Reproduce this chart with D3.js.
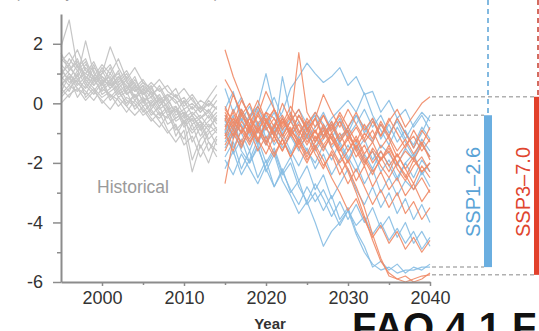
<!DOCTYPE html>
<html>
<head>
<meta charset="utf-8">
<script src="https://cdn.jsdelivr.net/npm/d3@7"></script>
<style>
  html, body { margin: 0; padding: 0; background: #fff; }
  svg { display: block; font-family: "Liberation Sans", Arial, sans-serif; }
</style>
</head>
<body>
<div id="chart"></div>
<script>
// years
const histYears = [1995, 1996, 1997, 1998, 1999, 2000, 2001, 2002, 2003, 2004,
  2005, 2006, 2007, 2008, 2009, 2010, 2011, 2012, 2013, 2014];
const projYears = [2015, 2016, 2017, 2018, 2019, 2020, 2021, 2022, 2023, 2024,
  2025, 2026, 2027, 2028, 2029, 2030, 2031, 2032, 2033, 2034,
  2035, 2036, 2037, 2038, 2039, 2040];

// historical ensemble members (1995-2014)
const historical = [
  [1.9, 2.8, 1.2, 1.0, 0.8, 1.1, 0.6, 0.7, 0.3, 0.5, 0.1, 0.2, -0.2, 0.0, -0.5, -0.3, -0.6, -0.4, -0.8, -0.5],
  [1.5, 1.2, 0.9, 2.1, 1.0, 0.7, 0.9, 0.4, 0.6, 0.2, 0.4, -0.1, 0.1, -0.3, -0.2, -0.6, -0.4, -0.9, -0.6, -0.3],
  [0.8, 1.1, 1.4, 0.9, 0.6, 1.0, 1.9, 1.2, 0.7, 0.4, 0.6, 0.3, -0.1, 0.2, -0.4, -0.2, -0.7, -0.5, -0.3, -0.7],
  [1.2, 0.7, 0.9, 1.3, 1.1, 0.5, 0.8, 0.3, 0.5, 0.9, 0.2, 0.0, 0.3, -0.2, -0.1, -0.5, -0.3, -0.6, -0.9, -0.4],
  [0.3, 0.6, 0.4, 0.8, 0.5, 0.2, 0.4, 0.6, 0.1, -0.1, 0.2, -0.3, -0.5, -0.2, -0.8, -1.2, -0.7, -1.5, -1.0, -0.8],
  [0.9, 1.5, 1.1, 0.6, 1.2, 0.9, 0.5, 0.8, 1.1, 0.6, 0.3, 0.5, 0.1, 0.3, 0.0, 0.2, -0.2, 0.1, -0.1, 0.3],
  [0.5, 0.2, 0.7, 0.4, 0.1, 0.5, 0.3, -0.1, 0.2, 0.0, -0.4, -0.2, -0.6, -1.0, -0.7, -1.4, -1.1, -1.8, -1.3, -1.6],
  [1.6, 1.3, 1.8, 1.1, 0.9, 1.3, 1.0, 1.5, 0.8, 1.2, 0.7, 0.5, 0.8, 0.4, 0.2, 0.5, 0.1, -0.2, 0.2, 0.6],
  [0.6, 0.9, 0.5, 0.3, 0.8, 0.4, 0.7, 0.2, 0.4, -0.2, 0.1, -0.4, -0.1, -0.7, -0.5, -0.3, -0.9, -0.6, -1.2, -0.9],
  [1.1, 0.8, 1.3, 0.7, 0.4, 0.8, 0.2, 0.5, -0.1, 0.3, -0.3, 0.0, -0.4, -0.1, -1.1, -0.6, -1.9, -1.2, -0.9, -1.4],
  [0.2, 0.5, 0.8, 0.5, 0.9, 0.6, 1.0, 0.6, 0.9, 0.4, 0.7, 0.3, 0.5, 0.0, 0.3, -0.2, 0.0, -0.3, 0.1, -0.2],
  [1.3, 1.0, 0.6, 0.9, 0.7, 1.2, 0.8, 1.0, 0.5, 0.7, 0.0, 0.4, 0.2, -0.4, -0.2, -0.8, -0.5, -1.1, -0.7, -1.0],
  [0.7, 0.4, 1.0, 0.2, 0.5, 0.0, 0.3, 0.1, -0.3, 0.1, -0.2, -0.6, -0.3, -0.9, -1.3, -0.9, -2.3, -1.4, -2.0, -1.2],
  [1.0, 1.3, 0.8, 1.0, 1.4, 0.8, 0.6, 0.9, 0.6, 0.1, 0.5, 0.2, 0.6, 0.1, -0.3, 0.1, -0.4, -0.1, -0.5, -0.1],
  [0.4, 0.9, 0.2, 0.6, 0.3, 0.7, 0.1, 0.4, 0.0, 0.3, -0.1, 0.1, -0.3, -0.5, -0.1, -0.7, -0.4, -0.8, -1.6, -1.1],
  [1.4, 1.7, 1.2, 1.5, 0.8, 1.0, 1.3, 0.7, 1.0, 0.5, 0.8, 0.4, -0.1, 0.3, 0.1, -0.4, -0.1, -0.5, -0.2, -0.6],
  [0.0, 0.3, 0.5, 0.1, 0.4, 0.1, -0.2, 0.2, -0.1, -0.4, -0.1, -0.5, -0.8, -0.4, -0.9, -0.6, -1.0, -0.7, -1.3, -1.8],
  [0.9, 0.6, 1.1, 1.4, 0.6, 0.9, 0.7, 1.1, 0.3, 0.6, 0.4, 0.7, 0.4, 0.6, 0.2, 0.0, 0.3, -0.1, -0.3, 0.1],
  [1.7, 1.1, 1.5, 0.8, 1.3, 0.6, 1.2, 0.5, 0.8, 0.2, 0.6, -0.2, 0.2, -0.1, -0.6, -0.4, -1.3, -0.8, -0.4, -0.9],
  [0.6, 1.0, 0.7, 1.2, 0.9, 0.3, 0.5, 0.9, 0.4, 0.8, 0.3, 0.6, 0.0, 0.2, 0.5, -0.1, 0.2, -0.3, 0.0, -0.2]
];

// SSP1-2.6 members (2015-2040)
const ssp126 = [
  [-0.5, -1.2, -0.3, -0.9, -1.4, -0.6, -1.1, 0.9, -0.4, -1.0, -0.7, -1.3, -0.8, -1.5, -1.1, -0.9, -1.6, -1.2, -1.9, -1.4, -1.7, -2.1, -1.5, -1.9, -1.3, -1.8],
  [-1.0, -0.4, -1.5, -0.8, -0.2, -1.2, -0.7, -0.3, 0.5, 0.9, 1.35, 1.0, 0.7, 0.9, 1.2, 0.6, 0.9, 0.3, 0.4, -0.3, 0.1, -0.5, -0.2, -0.8, -0.4, -0.9],
  [-1.8, -1.3, -2.2, -1.6, -2.5, -1.9, -2.8, -2.2, -3.0, -2.6, -3.4, -3.0, -3.6, -3.1, -3.9, -3.5, -4.3, -4.8, -5.5, -5.3, -5.6, -5.4, -5.7, -5.5, -5.6, -5.4],
  [-0.2, 0.4, -0.6, -0.1, -0.8, -0.3, 0.2, -0.5, -1.0, -0.4, -0.9, -0.3, -0.7, -1.2, -0.6, -1.0, -0.4, -0.8, -1.3, -0.7, -1.1, -0.5, -1.0, -1.4, -0.8, -1.2],
  [-1.3, -0.8, -1.6, -2.0, -1.4, -2.3, -1.7, -2.6, -3.1, -3.7, -3.3, -4.0, -4.8, -4.3, -4.0, -3.6, -4.1, -3.8, -4.4, -4.0, -4.6, -4.2, -4.7, -4.3, -4.9, -4.5],
  [-0.7, -1.5, -0.9, -0.4, -0.1, 1.0, -0.2, -0.9, -0.5, -1.3, -0.8, -1.6, -1.2, -0.7, -1.4, -1.9, -1.3, -2.0, -1.6, -2.3, -1.9, -2.5, -2.0, -1.7, -2.4, -2.0],
  [-2.2, -1.6, -2.4, -1.9, -1.2, -2.0, -1.5, -2.3, -1.8, -2.6, -2.1, -2.9, -2.4, -3.2, -2.7, -2.2, -2.9, -3.4, -2.8, -3.5, -3.0, -3.7, -3.2, -3.9, -3.4, -4.0],
  [-0.4, -0.9, -0.2, -0.7, -1.3, -0.8, -1.4, -1.0, -1.6, -2.1, -1.5, -2.2, -1.7, -2.4, -1.9, -1.4, -2.0, -2.7, -2.2, -3.0, -2.5, -3.1, -2.6, -2.9, -2.3, -2.8],
  [-1.5, -1.0, -0.5, -1.1, -0.6, -1.3, -0.9, -1.5, -1.1, -0.6, -1.2, -0.8, -0.3, -0.9, -0.5, -1.1, -0.7, -0.2, -0.8, -0.4, -1.0, -0.6, -1.2, -0.7, -0.3, -0.6],
  [-0.9, -1.7, -1.2, -2.0, -1.5, -2.2, -2.8, -2.3, -2.9, -3.4, -2.8, -3.3, -2.9, -3.5, -4.1, -3.6, -4.4, -5.0, -5.4, -5.6, -5.5, -5.7, -5.6, -5.6, -5.5, -5.5],
  [-1.1, -0.6, -1.0, -1.6, -0.9, -1.4, -0.8, -1.2, -1.7, -1.1, -1.6, -2.0, -1.4, -1.9, -1.3, -1.8, -2.3, -1.7, -2.2, -1.6, -2.1, -2.6, -2.0, -2.5, -1.9, -2.3],
  [0.5, -0.3, 0.2, -0.5, -0.1, -0.8, -0.3, -1.0, -0.6, -0.2, -0.7, -0.4, -1.1, -0.6, -1.3, -0.8, -0.4, -1.0, -0.5, -1.2, -0.7, -1.3, -0.9, -1.5, -1.0, -0.4],
  [-1.9, -2.4, -1.7, -2.2, -2.7, -2.1, -1.6, -2.4, -2.0, -2.8, -3.3, -2.7, -3.2, -3.8, -3.3, -3.9, -3.4, -4.0, -3.5, -4.2, -3.8, -4.5, -4.0, -4.7, -4.3, -4.8],
  [-0.6, -1.1, -0.7, -1.3, -0.8, -0.4, -1.0, -0.5, -1.1, -1.6, -1.0, -1.5, -0.9, -0.5, -0.2, 0.1, -0.3, 0.35, -0.4, -0.9, -1.4, -0.8, -1.3, -1.8, -1.2, -1.6]
];

// SSP3-7.0 members (2015-2040)
const ssp370 = [
  [1.8, 0.9, 0.2, -0.5, 0.1, -0.6, -0.2, -0.9, -0.4, -1.0, -0.6, -1.2, -0.8, -1.4, -1.0, -1.6, -1.1, -1.7, -1.3, -1.9, -1.5, -2.0, -1.6, -1.9, -1.4, -1.8],
  [-2.7, -1.2, -0.6, -1.0, -0.4, -0.9, -0.5, -1.1, -0.6, 1.7, -0.3, -0.8, -0.4, -1.0, -0.6, -1.2, -0.8, -1.3, -0.9, -1.5, -1.1, -1.6, -1.2, -1.7, -1.3, -1.9],
  [-0.3, -0.8, -0.2, -0.7, -0.1, -0.6, -1.0, -0.5, -1.1, -0.7, -1.3, -0.9, -1.4, -1.0, -1.6, -1.2, -1.8, -1.4, -2.0, -1.6, -2.1, -1.7, -2.2, -1.8, -2.3, -2.0],
  [-0.8, -0.3, -1.0, -0.5, -1.2, -0.7, -0.2, -0.8, -0.3, -0.9, -1.4, -0.9, -1.5, -1.1, -1.7, -2.2, -2.8, -3.5, -4.4, -5.2, -5.8, -5.9, -6.0, -5.9, -5.8, -5.76],
  [-0.5, -1.1, -0.4, -0.9, -0.3, -0.8, -1.3, -0.6, -1.0, -0.4, -0.9, -0.5, -1.1, -0.6, -1.2, -0.8, -0.3, -0.9, -0.5, -1.1, -0.6, -0.2, -0.8, -0.4, 0.0, 0.22],
  [-1.2, -0.7, -1.4, -0.9, -1.6, -1.1, -1.7, -1.2, -1.8, -1.3, -1.9, -1.5, -2.1, -1.7, -2.4, -1.9, -2.6, -2.1, -2.8, -2.3, -2.9, -2.5, -3.1, -2.7, -3.3, -2.9],
  [0.8, 0.3, -0.4, 0.0, -0.7, -0.3, -0.5, -1.1, -0.6, -0.2, -0.9, -0.5, -1.2, -0.8, -0.4, -1.0, -1.5, -1.0, -1.3, -0.7, -1.2, -1.8, -1.4, -1.1, -1.6, -1.2],
  [-1.6, -1.0, -1.5, -0.8, -1.3, -0.6, -1.1, -1.6, -1.0, -1.5, -2.0, -1.4, -1.9, -2.5, -3.0, -3.6, -3.2, -3.9, -4.5, -4.1, -4.7, -4.3, -4.9, -4.5, -5.0, -4.6],
  [-0.1, -0.7, 0.1, -0.4, -1.0, -0.3, -0.8, 0.0, -0.6, -1.1, -0.5, -1.0, -0.4, -0.9, -0.3, -0.8, -1.3, -0.7, -1.2, -0.6, -1.1, -0.5, -1.0, -1.5, -0.9, -1.3],
  [-1.0, -1.6, -0.9, -1.4, -0.8, -1.3, -0.7, -1.2, -1.8, -1.2, -1.7, -1.1, -1.6, -1.0, -1.5, -2.0, -1.4, -1.9, -2.4, -1.8, -2.3, -1.7, -2.2, -2.7, -2.1, -2.5],
  [-0.6, 0.3, -0.3, -0.9, -0.4, 0.4, -0.2, -0.7, -0.1, -0.6, -1.1, -0.5, 0.3, -0.3, -0.8, -0.2, -0.7, -1.2, -0.6, -1.1, -0.5, -1.0, -1.5, -0.9, -1.4, -0.8],
  [-1.4, -0.9, -1.3, -0.7, -1.2, -1.7, -1.1, -1.6, -1.0, -1.5, -1.1, -1.7, -2.2, -1.6, -2.1, -2.7, -2.2, -2.8, -3.4, -2.9, -3.5, -3.0, -3.7, -3.3, -3.9, -3.5],
  [-0.4, -0.9, -0.3, -0.8, -1.3, -0.6, -1.1, -0.5, -1.0, -0.4, -0.8, -1.3, -0.7, -1.2, -1.7, -2.3, -3.0, -3.8, -4.6, -5.3, -5.7, -5.9, -5.8, -6.0, -5.9, -5.7],
  [-0.9, -0.2, -0.8, -1.3, -0.9, -0.5, -1.0, -1.4, -0.9, -1.2, -1.8, -1.3, -0.9, -1.5, -2.0, -1.6, -1.2, -1.8, -2.3, -1.9, -1.6, -2.2, -2.6, -2.1, -1.8, -2.3],
  [-0.2, -0.6, -1.0, -0.5, -0.9, -1.4, -0.8, -0.4, -0.9, -1.3, -0.7, -0.3, -0.8, -1.2, -1.6, -1.1, -1.5, -2.0, -1.6, -2.1, -2.5, -2.0, -2.4, -2.9, -2.5, -3.0],
  [-1.1, -0.5, -0.8, -1.2, -0.7, -1.3, -1.8, -1.2, -0.8, -1.4, -0.9, -1.5, -1.1, -0.7, -1.3, -0.9, -1.6, -2.1, -1.5, -1.9, -1.4, -2.0, -2.5, -1.9, -2.3, -2.0]
];

const yMajor = [-6, -4, -2, 0, 2];
const yMinor = [-5, -3, -1, 1];
const xMajor = [2000, 2010, 2020, 2030, 2040];
const xMinor = [2005, 2015, 2025, 2035];

const scenarios = [
  {name: "SSP1\u20132.6", members: ssp126, line: "#86bde3", bar: "#6aaee0", text: "#5aa3d6", dash: "#5aa3d6", barX: 484, textX: 480},
  {name: "SSP3\u20137.0", members: ssp370, line: "#ef8a66", bar: "#e2402b", text: "#e0452f", dash: "#c63d2d", barX: 534, textX: 530}
];

const W = 539, H = 331;
const svg = d3.select("#chart").append("svg")
  .attr("width", W)
  .attr("height", H);

svg.append("rect").attr("width", W).attr("height", H).attr("fill", "#fff");

const x = d3.scaleLinear().domain([1995, 2040]).range([61, 430]);
const y = d3.scaleLinear().domain([-6, 3]).range([282, 14]);

// top label, mostly cut off in the original
svg.append("text")
  .attr("x", 15)
  .attr("y", -2.5)
  .attr("font-size", 14)
  .attr("fill", "#999")
  .text("(anomaly, relative to 1995\u20132014)");

const line = d3.line()
  .x(d => x(d[0]))
  .y(d => y(d[1]));

// historical
svg.append("g")
  .selectAll("path")
  .data(historical)
  .enter()
  .append("path")
  .attr("d", function(d) {
    return line(d.map((v, i) => [histYears[i], v]));
  })
  .attr("fill", "none")
  .attr("stroke", "#c6c6c6")
  .attr("stroke-width", 1.2)
  .attr("stroke-linejoin", "round");

// projections
scenarios.forEach(function(s) {
  svg.append("g")
    .selectAll("path")
    .data(s.members)
    .enter()
    .append("path")
    .attr("d", function(d) {
      return line(d.map((v, i) => [projYears[i], v]));
    })
    .attr("fill", "none")
    .attr("stroke", s.line)
    .attr("stroke-width", 1.2)
    .attr("stroke-opacity", 0.9)
    .attr("stroke-linejoin", "round");
});

// y axis
svg.append("g")
  .attr("transform", "translate(" + x(1995) + ",0)")
  .call(d3.axisLeft(y).tickValues(yMajor).tickSize(8).tickSizeOuter(0).tickPadding(10)
    .tickFormat(d => d));
svg.append("g")
  .attr("transform", "translate(" + x(1995) + ",0)")
  .call(d3.axisLeft(y).tickValues(yMinor).tickSize(4).tickSizeOuter(0).tickFormat(""))
  .select(".domain").remove();

// x axis
svg.append("g")
  .attr("transform", "translate(0," + y(-6) + ")")
  .call(d3.axisBottom(x).tickValues(xMajor).tickSize(4).tickSizeOuter(0).tickPadding(5)
    .tickFormat(d3.format("d")));
svg.append("g")
  .attr("transform", "translate(0," + y(-6) + ")")
  .call(d3.axisBottom(x).tickValues(xMinor).tickSize(3).tickSizeOuter(0).tickFormat(""))
  .select(".domain").remove();

svg.selectAll(".domain").attr("stroke", "#8c8c8c").attr("stroke-width", 2);
svg.selectAll(".tick line").attr("stroke", "#8c8c8c").attr("stroke-width", 1.5);
svg.selectAll(".tick text")
  .attr("font-size", 18)
  .attr("fill", "#333")
  .attr("font-family", "Liberation Sans, Arial, sans-serif");

svg.append("text")
  .attr("x", 133)
  .attr("y", 193)
  .attr("text-anchor", "middle")
  .attr("font-size", 17.5)
  .attr("fill", "#9a9a9a")
  .text("Historical");

svg.append("text")
  .attr("x", 270)
  .attr("y", 329)
  .attr("text-anchor", "middle")
  .attr("font-size", 15)
  .attr("font-weight", "bold")
  .attr("fill", "#333")
  .text("Year");

// range bars at 2040
scenarios.forEach(function(s) {
  const last = s.members.map(m => m[m.length - 1]);
  const [lo, hi] = d3.extent(last);
  const barW = 8;
  const cx = s.barX + barW / 2;

  [hi, lo].forEach(function(v) {
    svg.append("line")
      .attr("x1", x(2040) + 2)
      .attr("x2", s.barX)
      .attr("y1", y(v))
      .attr("y2", y(v))
      .attr("stroke", "#b0b0b0")
      .attr("stroke-width", 1.5)
      .attr("stroke-dasharray", "4,3");
  });

  svg.append("line")
    .attr("x1", cx)
    .attr("x2", cx)
    .attr("y1", 0)
    .attr("y2", y(hi))
    .attr("stroke", s.dash)
    .attr("stroke-width", 1.5)
    .attr("stroke-dasharray", "5,4");

  svg.append("rect")
    .attr("x", s.barX)
    .attr("y", y(hi))
    .attr("width", barW)
    .attr("height", y(lo) - y(hi))
    .attr("fill", s.bar);

  svg.append("text")
    .attr("transform", "translate(" + s.textX + "," + 192 + ") rotate(-90)")
    .attr("text-anchor", "middle")
    .attr("font-size", 20)
    .attr("fill", s.text)
    .text(s.name);
});

svg.append("text")
  .attr("x", 352)
  .attr("y", 341)
  .attr("font-size", 40)
  .attr("font-weight", "bold")
  .attr("fill", "#111")
  .text("FAQ 4.1 F");
</script>
</body>
</html>
